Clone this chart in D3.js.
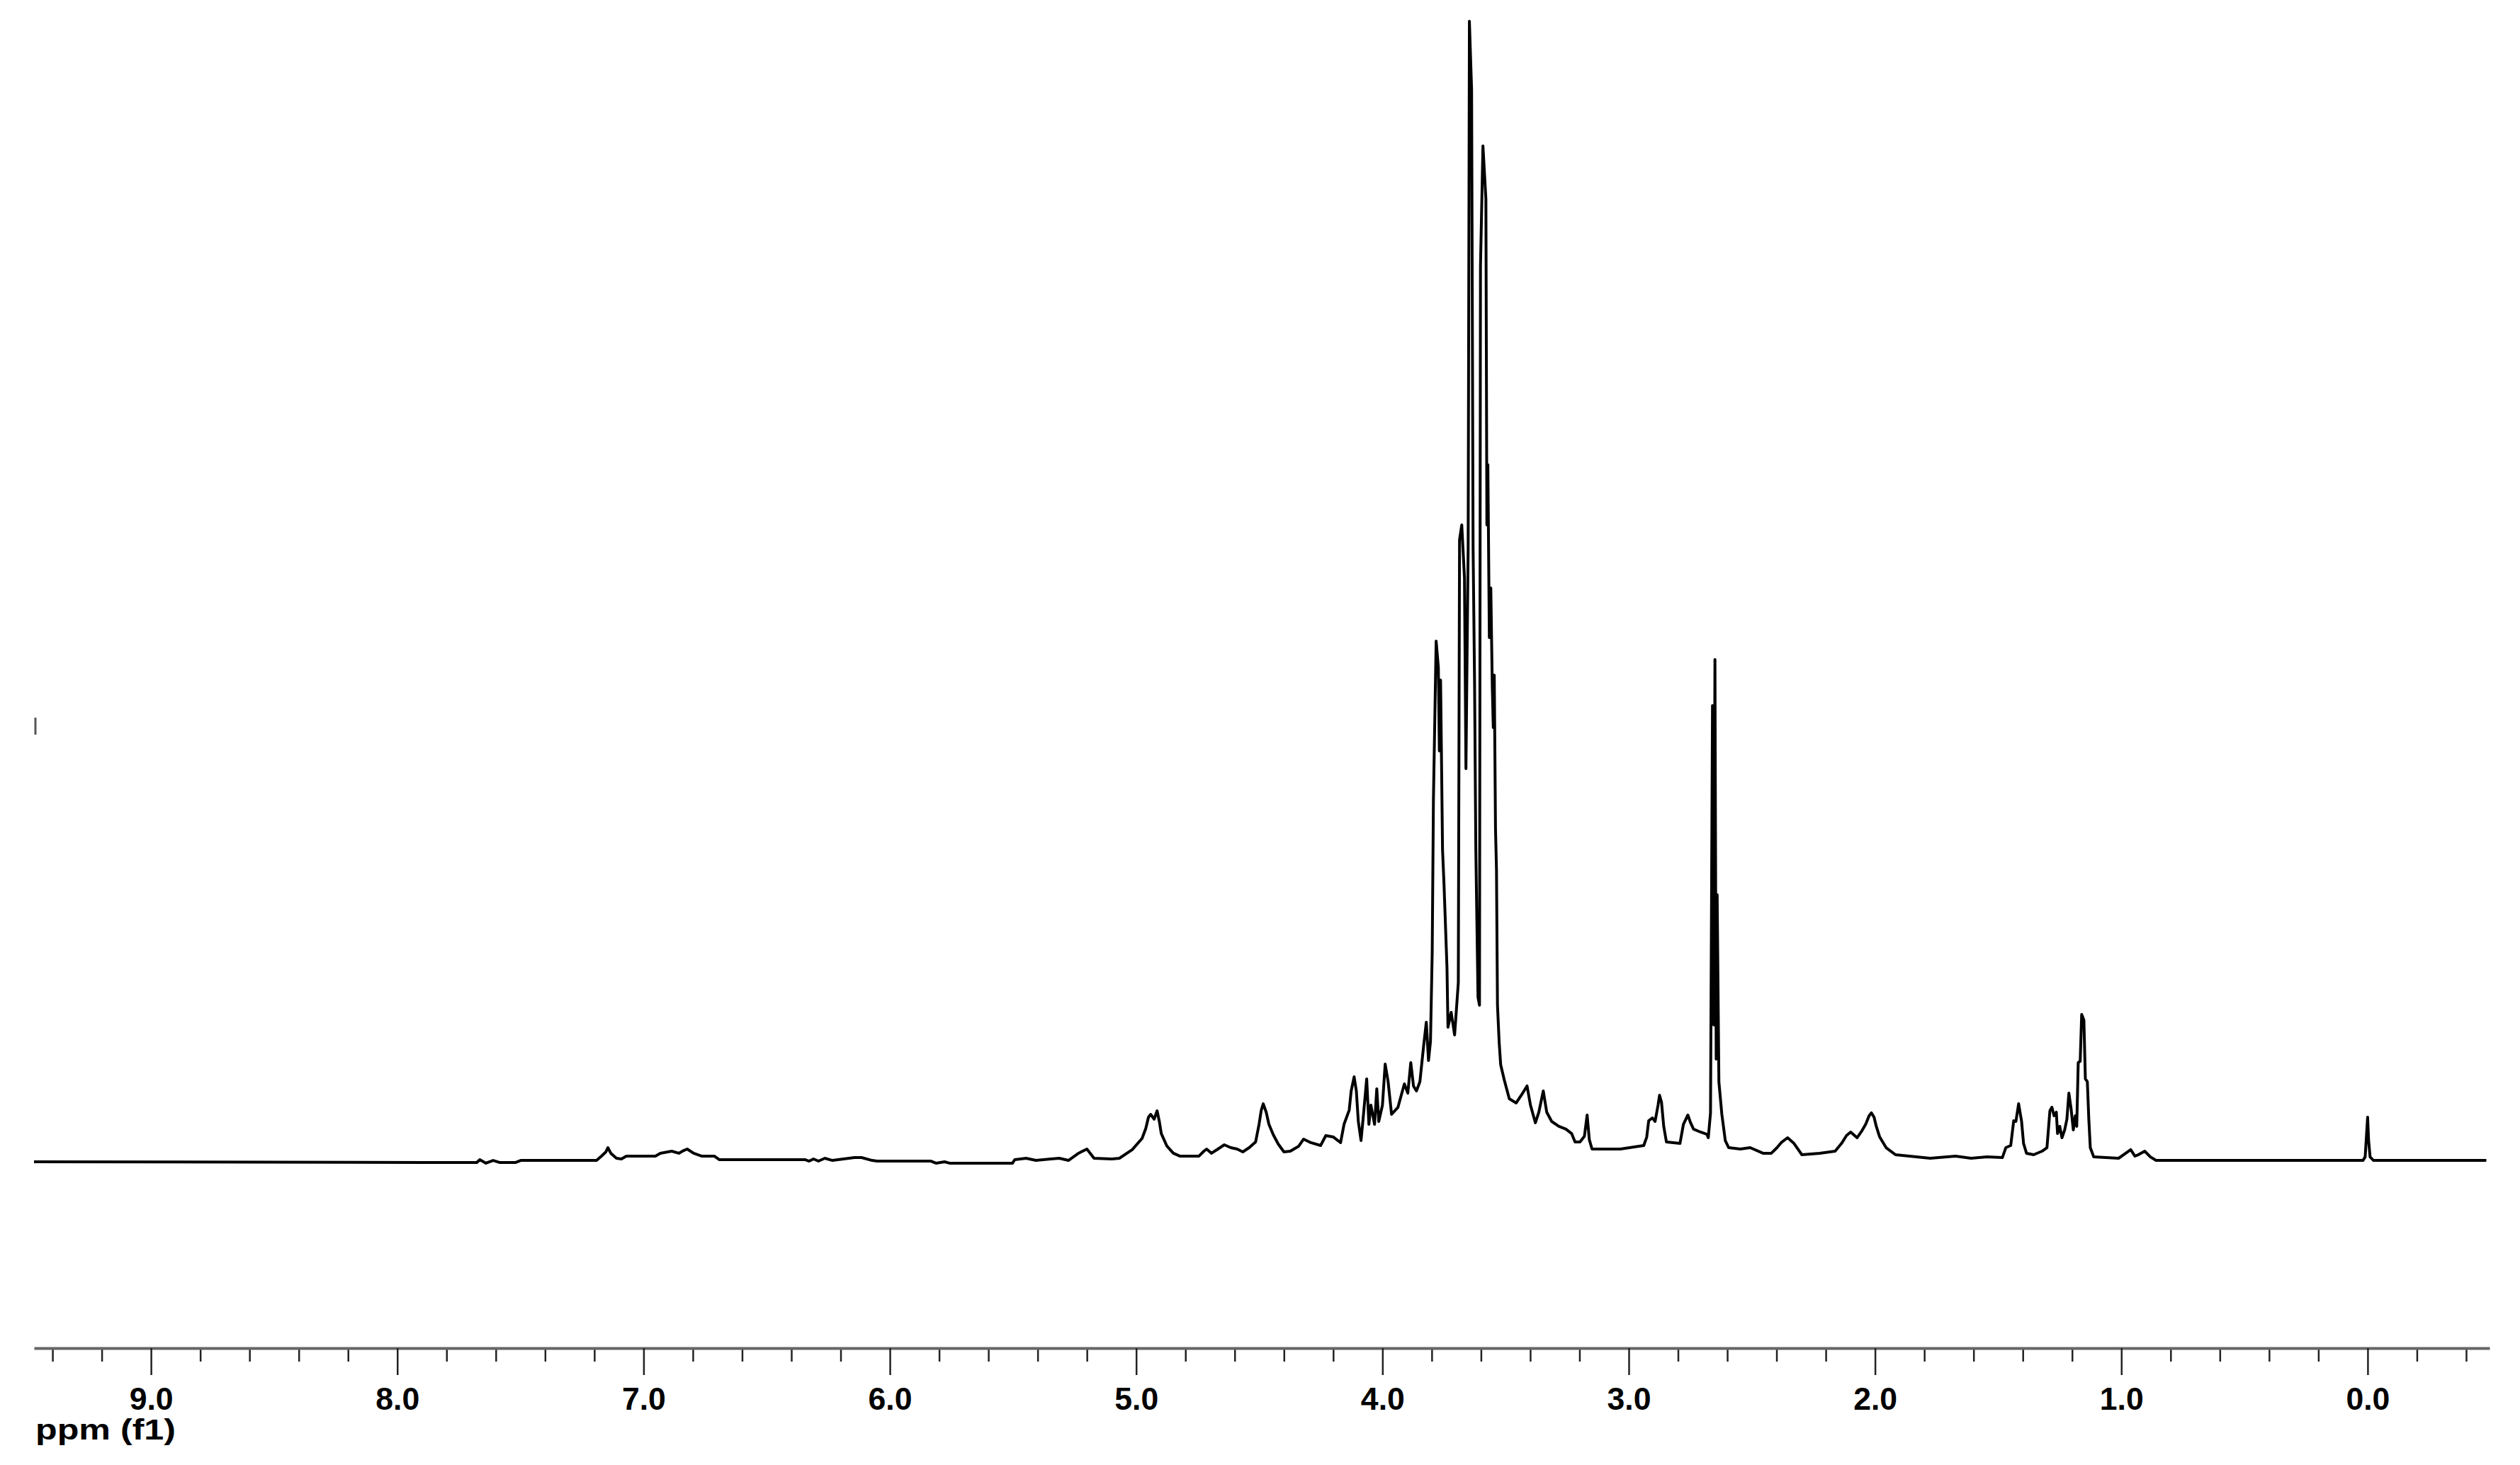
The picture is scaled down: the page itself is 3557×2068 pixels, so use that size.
<!DOCTYPE html>
<html>
<head>
<meta charset="utf-8">
<script src="https://cdn.jsdelivr.net/npm/d3@7"></script>
<style>
  html, body { margin: 0; padding: 0; background: #ffffff; }
  svg { display: block; }
</style>
</head>
<body>
<script>
// ---- Data (chemical shift in ppm, relative intensity) ----
const ppm = [
  9.475, 7.887, 7.677, 7.665, 7.640, 7.611, 7.585, 7.519, 7.499, 7.191,
  7.171, 7.153, 7.145, 7.133, 7.110, 7.090, 7.070, 6.952, 6.932, 6.886,
  6.857, 6.837, 6.823, 6.797, 6.765, 6.713, 6.693, 6.345, 6.328, 6.310,
  6.290, 6.264, 6.233, 6.144, 6.115, 6.072, 6.052, 5.833, 5.813, 5.778,
  5.758, 5.502, 5.493, 5.447, 5.407, 5.347, 5.312, 5.275, 5.234, 5.200,
  5.171, 5.099, 5.068, 5.016, 4.976, 4.961, 4.950, 4.941, 4.927, 4.915,
  4.906, 4.898, 4.875, 4.849, 4.823, 4.745, 4.725, 4.714, 4.694, 4.668,
  4.642, 4.616, 4.590, 4.567, 4.541, 4.515, 4.501, 4.492, 4.484, 4.472,
  4.461, 4.443, 4.423, 4.400, 4.374, 4.340, 4.320, 4.291, 4.251, 4.230,
  4.199, 4.170, 4.156, 4.135, 4.127, 4.115, 4.106, 4.098, 4.087, 4.078,
  4.064, 4.055, 4.047, 4.032, 4.023, 4.015, 4.000, 3.989, 3.977, 3.963,
  3.937, 3.911, 3.897, 3.885, 3.874, 3.862, 3.848, 3.833, 3.822, 3.813,
  3.805, 3.798, 3.793, 3.782, 3.773, 3.769, 3.764, 3.756, 3.750, 3.738,
  3.734, 3.721, 3.707, 3.692, 3.687, 3.678, 3.667, 3.661, 3.652, 3.647,
  3.638, 3.632, 3.626, 3.621, 3.612, 3.606, 3.602, 3.592, 3.580, 3.576,
  3.572, 3.566, 3.560, 3.554, 3.550, 3.546, 3.541, 3.537, 3.533, 3.526,
  3.520, 3.505, 3.485, 3.457, 3.436, 3.413, 3.399, 3.379, 3.365, 3.347,
  3.333, 3.313, 3.284, 3.255, 3.232, 3.218, 3.198, 3.180, 3.169, 3.160,
  3.149, 3.034, 2.996, 2.939, 2.927, 2.919, 2.904, 2.893, 2.881, 2.875,
  2.867, 2.858, 2.847, 2.792, 2.778, 2.760, 2.749, 2.737, 2.709, 2.683,
  2.677, 2.668, 2.660, 2.655, 2.650, 2.645, 2.641, 2.634, 2.622, 2.608,
  2.594, 2.547, 2.507, 2.455, 2.421, 2.398, 2.381, 2.355, 2.329, 2.297,
  2.225, 2.162, 2.136, 2.116, 2.099, 2.073, 2.053, 2.038, 2.024, 2.015,
  2.004, 1.995, 1.981, 1.955, 1.917, 1.776, 1.673, 1.610, 1.546, 1.483,
  1.469, 1.449, 1.437, 1.428, 1.417, 1.405, 1.397, 1.385, 1.356, 1.322,
  1.302, 1.290, 1.282, 1.273, 1.264, 1.259, 1.250, 1.241, 1.230, 1.221,
  1.213, 1.204, 1.195, 1.187, 1.181, 1.175, 1.167, 1.161, 1.152, 1.146,
  1.138, 1.132, 1.126, 1.112, 1.011, 0.982, 0.962, 0.945, 0.931, 0.905,
  0.882, 0.859, 0.019, 0.010, 0.000, -0.004, -0.010, -0.024, -0.482
];

const intensity = [
  0.00, -0.06, -0.06, 0.19, -0.12, 0.12, -0.06, -0.06, 0.12, 0.12,
  0.50, 0.87, 1.24, 0.75, 0.31, 0.25, 0.50, 0.50, 0.75, 0.93,
  0.75, 0.99, 1.12, 0.75, 0.50, 0.50, 0.19, 0.19, 0.06, 0.25,
  0.06, 0.31, 0.12, 0.37, 0.37, 0.12, 0.06, 0.06, -0.12, 0.00,
  -0.12, -0.12, 0.19, 0.31, 0.12, 0.25, 0.31, 0.12, 0.75, 1.12,
  0.31, 0.25, 0.31, 1.06, 2.05, 2.92, 3.91, 4.16, 3.73, 4.47,
  3.54, 2.48, 1.37, 0.75, 0.50, 0.50, 0.93, 1.12, 0.75, 1.12,
  1.49, 1.24, 1.12, 0.87, 1.24, 1.74, 3.29, 4.53, 5.09, 4.35,
  3.29, 2.36, 1.55, 0.87, 0.93, 1.37, 1.99, 1.68, 1.43, 2.30,
  2.17, 1.68, 3.29, 4.53, 6.21, 7.45, 6.21, 3.54, 1.86, 3.91,
  7.27, 3.29, 4.97, 3.29, 6.40, 3.54, 4.97, 8.57, 7.02, 4.16,
  4.78, 6.83, 6.02, 8.70, 6.65, 6.21, 7.02, 10.12, 12.24, 8.88,
  10.56, 18.32, 31.80, 45.65, 43.35, 36.02, 42.24, 27.33, 24.29, 17.02,
  11.80, 13.11, 11.12, 15.71, 54.53, 55.84, 51.24, 34.47, 53.85, 100.00,
  93.98, 53.85, 42.05, 27.58, 14.41, 13.73, 78.51, 89.07, 84.41, 55.84,
  61.12, 45.96, 50.31, 41.61, 38.07, 42.67, 29.19, 25.59, 13.73, 10.43,
  8.51, 7.14, 5.53, 5.16, 5.84, 6.65, 4.97, 3.42, 4.35, 6.21,
  4.35, 3.54, 3.11, 2.86, 2.48, 1.74, 1.74, 2.24, 4.10, 1.93,
  1.12, 1.12, 1.24, 1.43, 2.17, 3.60, 3.85, 3.54, 4.97, 5.84,
  5.22, 3.11, 1.74, 1.61, 3.29, 4.10, 3.42, 2.86, 2.61, 2.42,
  2.11, 4.29, 40.00, 12.00, 44.04, 9.00, 23.42, 7.02, 4.16, 1.86,
  1.24, 1.12, 1.24, 0.75, 0.75, 1.24, 1.68, 2.11, 1.61, 0.62,
  0.75, 0.93, 1.61, 2.30, 2.61, 2.11, 2.73, 3.29, 4.04, 4.29,
  3.91, 3.11, 2.17, 1.24, 0.62, 0.31, 0.50, 0.31, 0.43, 0.37,
  1.24, 1.43, 3.60, 3.54, 5.09, 3.54, 1.61, 0.75, 0.62, 0.93,
  1.24, 4.47, 4.78, 4.04, 4.35, 2.48, 3.11, 2.11, 2.80, 3.73,
  6.02, 4.66, 2.80, 4.04, 3.11, 8.70, 8.82, 12.92, 12.42, 7.27,
  7.02, 3.73, 1.24, 0.43, 0.31, 0.75, 1.06, 0.50, 0.62, 0.93,
  0.43, 0.12, 0.12, 0.43, 3.91, 1.86, 0.43, 0.12, 0.12
];

const majorTicks = [9, 8, 7, 6, 5, 4, 3, 2, 1, 0];
const minorTicks = [9.4, 9.2, 8.8, 8.6, 8.4, 8.2, 7.8, 7.6, 7.4, 7.2, 6.8, 6.6, 6.4, 6.2,
  5.8, 5.6, 5.4, 5.2, 4.8, 4.6, 4.4, 4.2, 3.8, 3.6, 3.4, 3.2, 2.8, 2.6, 2.4, 2.2,
  1.8, 1.6, 1.4, 1.2, 0.8, 0.6, 0.4, 0.2, -0.2, -0.4];
const axisTitle = "ppm (f1)";
const ppmDomain = [9.475, -0.495];
const intensityDomain = [0, 100];

// ---- Drawing ----
const W = 3557, H = 2068;
const svg = d3.select("body").append("svg")
  .attr("width", W).attr("height", H)
  .attr("viewBox", `0 0 ${W} ${H}`);
svg.append("rect").attr("width", W).attr("height", H).attr("fill", "#ffffff");

const x = d3.scaleLinear().domain(ppmDomain).range([48, 3514]);
const y = d3.scaleLinear().domain(intensityDomain).range([1640, 30]);
const axisY = 1903;

const points = ppm.map((p, i) => [p, intensity[i]]);

const line = d3.line()
  .x(d => x(d[0]))
  .y(d => y(d[1]))
  .curve(d3.curveLinear);

svg.append("path")
  .datum(points)
  .attr("d", line)
  .attr("fill", "none")
  .attr("stroke", "#000000")
  .attr("stroke-width", 4)
  .attr("stroke-linejoin", "round")
  .attr("stroke-linecap", "butt");

// small marker at left (intensity reference mark)
svg.append("line")
  .attr("x1", 50).attr("x2", 50)
  .attr("y1", 1013).attr("y2", 1037)
  .attr("stroke", "#555").attr("stroke-width", 3);

// minor ticks
const minorAxis = d3.axisBottom(x)
  .tickValues(minorTicks)
  .tickSize(19)
  .tickSizeOuter(0)
  .tickFormat("");
const gMinor = svg.append("g")
  .attr("transform", `translate(0,${axisY})`)
  .call(minorAxis);
gMinor.select(".domain").remove();
gMinor.selectAll(".tick line").attr("stroke", "#222").attr("stroke-width", 2.5);

// major ticks + labels
const majorAxis = d3.axisBottom(x)
  .tickValues(majorTicks)
  .tickSize(38)
  .tickSizeOuter(0)
  .tickPadding(17)
  .tickFormat(d3.format(".1f"));
const gMajor = svg.append("g")
  .attr("transform", `translate(0,${axisY})`)
  .call(majorAxis);
gMajor.select(".domain")
  .attr("stroke", "#666")
  .attr("stroke-width", 4);
gMajor.selectAll(".tick line").attr("stroke", "#222").attr("stroke-width", 2.5);
gMajor.selectAll(".tick text")
  .attr("fill", "#000")
  .attr("font-family", "'Liberation Sans', Arial, sans-serif")
  .attr("font-weight", "bold")
  .attr("font-size", 45)
  .attr("textLength", 62)
  .attr("lengthAdjust", "spacingAndGlyphs");

// axis title
svg.append("text")
  .attr("x", 50)
  .attr("y", 2032)
  .attr("font-family", "'Liberation Sans', Arial, sans-serif")
  .attr("font-weight", "bold")
  .attr("font-size", 41)
  .attr("textLength", 198)
  .attr("lengthAdjust", "spacingAndGlyphs")
  .attr("fill", "#000")
  .text(axisTitle);
</script>
</body>
</html>
